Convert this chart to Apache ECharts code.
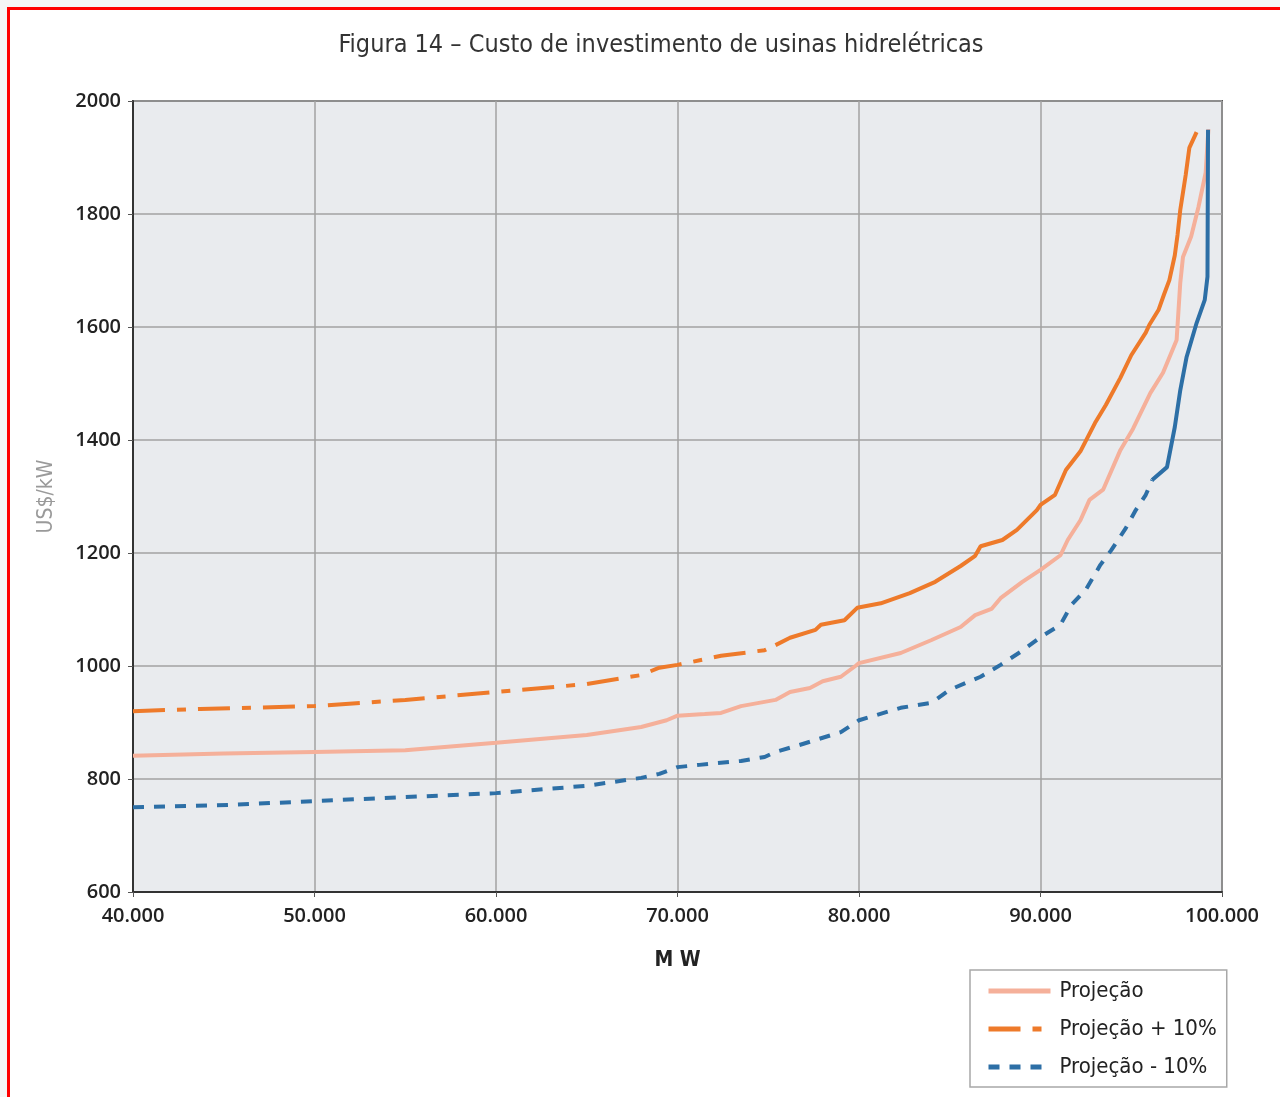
<!DOCTYPE html>
<html><head><meta charset="utf-8">
<script src="https://cdn.jsdelivr.net/npm/echarts@6/dist/echarts.min.js"></script>
<style>
html,body{margin:0;padding:0;background:#f5f5f5;}
#wrap{position:absolute;left:0;top:0;width:1280px;height:1097px;}
#frame{position:absolute;left:7px;top:7px;width:1273px;height:1090px;background:#fff;border-left:3px solid #f00;border-top:3px solid #f00;box-sizing:border-box;}
#chart{position:absolute;left:0;top:0;width:1280px;height:1097px;}
</style></head>
<body>
<div id="wrap"><div id="frame"></div><div id="chart"></div></div>
<script>
const titleText = 'Figura 14 – Custo de investimento de usinas hidrelétricas';
const xTicks = [40000, 50000, 60000, 70000, 80000, 90000, 100000];
const seriesNames = ['Projeção', 'Projeção + 10%', 'Projeção - 10%'];

const projX = [40000,45000,50000,55000,60000,65000,68000,69400,70000,71500,72400,73500,75400,76200,77300,78000,79000,79800,80000,82300,84000,85600,86400,87300,87800,89000,90000,91100,91500,92200,92700,93450,94400,95100,96050,96750,97500,97700,97850,98300,98700,99100,99250];
const projY = [841,845,848,851,864,878,892,904,912,915,917,929,940,954,961,973,981,1000,1005,1023,1046,1069,1090,1101,1120,1149,1170,1196,1223,1258,1294,1312,1382,1420,1483,1519,1577,1678,1724,1760,1812,1873,1950];

const plusX = [40000,43700,50000,55000,60000,65000,68000,69000,70000,72400,74800,75400,76200,77600,77900,79200,79900,81200,82800,84200,85600,86400,86700,87900,88700,89800,90000,90800,91400,92200,93000,93600,94400,95000,95800,96000,96500,96800,97100,97400,97550,97700,98000,98200,98600];
const plusY = [920,924,929,940,954,968,984,997,1002,1018,1028,1037,1050,1064,1073,1081,1103,1111,1129,1149,1177,1195,1212,1223,1241,1276,1285,1303,1347,1380,1430,1462,1510,1550,1590,1604,1630,1657,1683,1727,1763,1807,1869,1917,1945];

const minusX = [40000,45300,50000,55000,60000,65000,68000,69000,70000,71200,73500,74800,75400,76700,79000,80000,82300,84000,85000,86700,87800,88900,90000,91100,91700,92500,93300,93900,94700,95250,95800,96150,96970,97400,97700,98050,98600,99050,99200,99230];
const minusY = [750,754,761,768,775,788,802,809,821,825,832,839,848,860,883,904,926,935,958,981,1002,1025,1051,1073,1108,1135,1179,1205,1244,1276,1303,1329,1352,1423,1488,1547,1607,1648,1689,1949];

const zip = (xs, ys) => xs.map((x, i) => [x, ys[i]]);
const proj = zip(projX, projY);
const plus = zip(plusX, plusY);
const minus = zip(minusX, minusY);
const plusSplit = 11, minusSplit = 31;

const COND = "'Liberation Sans Narrow','DejaVu Sans Condensed','Roboto Condensed','Open Sans',sans-serif";
const LAB = "'Open Sans','Noto Sans',sans-serif";
const C_PINK = '#f5b09a', C_ORANGE = '#ee7a2a', C_BLUE = '#2d6fa6';

const chart = echarts.init(document.getElementById('chart'));
chart.setOption({
  animation: false,
  graphic: [{
    type: 'text', x: 661, y: 45,
    style: {text: titleText, fontSize: 25, fontFamily: COND, fill: '#333', align: 'center', verticalAlign: 'middle'}
  }],
  grid: {left: 133, right: 58, top: 101, bottom: 205, show: true, backgroundColor: '#e9ebee', borderColor: '#555', borderWidth: 2},
  legend: {
    data: seriesNames,
    orient: 'vertical', left: 970, top: 970,
    padding: [10, 10, 9, 16], itemGap: 16, itemWidth: 62, itemHeight: 14,
    itemStyle: {opacity: 0},
    lineStyle: {width: 5},
    backgroundColor: '#fff', borderColor: '#a8a8a8', borderWidth: 1.5, borderRadius: 0,
    textStyle: {fontSize: 22, fontFamily: COND, color: '#222', padding: [0, 0, 0, 4]}
  },
  xAxis: {
    type: 'value', min: 40000, max: 100000, interval: 10000,
    name: 'M W', nameLocation: 'middle', nameGap: 58,
    nameTextStyle: {fontSize: 21, fontFamily: COND, color: '#222', fontWeight: 'bold'},
    axisLine: {lineStyle: {color: '#333', width: 2}},
    axisTick: {show: true, length: 5, lineStyle: {color: '#555'}},
    axisLabel: {margin: 14, fontSize: 20, fontWeight: 600, fontFamily: LAB, color: '#222',
      formatter: v => xTicks.includes(v) ? (v / 1000).toFixed(3) : ''},
    splitLine: {show: true, lineStyle: {color: '#a2a2a2', width: 1.5}}
  },
  yAxis: {
    type: 'value', min: 600, max: 2000, interval: 200,
    name: 'US$/kW', nameLocation: 'middle', nameGap: 76, nameRotate: 90,
    nameTextStyle: {fontSize: 21, fontFamily: COND, color: '#9a9a9a'},
    axisLine: {show: true, lineStyle: {color: '#333', width: 2}},
    axisTick: {show: true, length: 5, lineStyle: {color: '#555'}},
    axisLabel: {margin: 12, fontSize: 20, fontWeight: 600, fontFamily: LAB, color: '#222', formatter: v => String(v)},
    splitLine: {show: true, lineStyle: {color: '#a2a2a2', width: 1.5}}
  },
  series: [
    {name: seriesNames[0], type: 'line', data: proj, symbol: 'none', color: C_PINK,
      lineStyle: {color: C_PINK, width: 4}},
    {name: seriesNames[1], type: 'line', data: plus.slice(0, plusSplit + 1), symbol: 'none', color: C_ORANGE,
      lineStyle: {color: C_ORANGE, width: 4, type: [32, 12, 9, 12]}},
    {name: seriesNames[1] + ' ', type: 'line', data: plus.slice(plusSplit), symbol: 'none', color: C_ORANGE,
      lineStyle: {color: C_ORANGE, width: 4}},
    {name: seriesNames[2], type: 'line', data: minus.slice(0, minusSplit + 1), symbol: 'none', color: C_BLUE,
      lineStyle: {color: C_BLUE, width: 4, type: [11, 10]}},
    {name: seriesNames[2] + ' ', type: 'line', data: minus.slice(minusSplit), symbol: 'none', color: C_BLUE,
      lineStyle: {color: C_BLUE, width: 4}}
  ]
});
</script>
</body></html>
